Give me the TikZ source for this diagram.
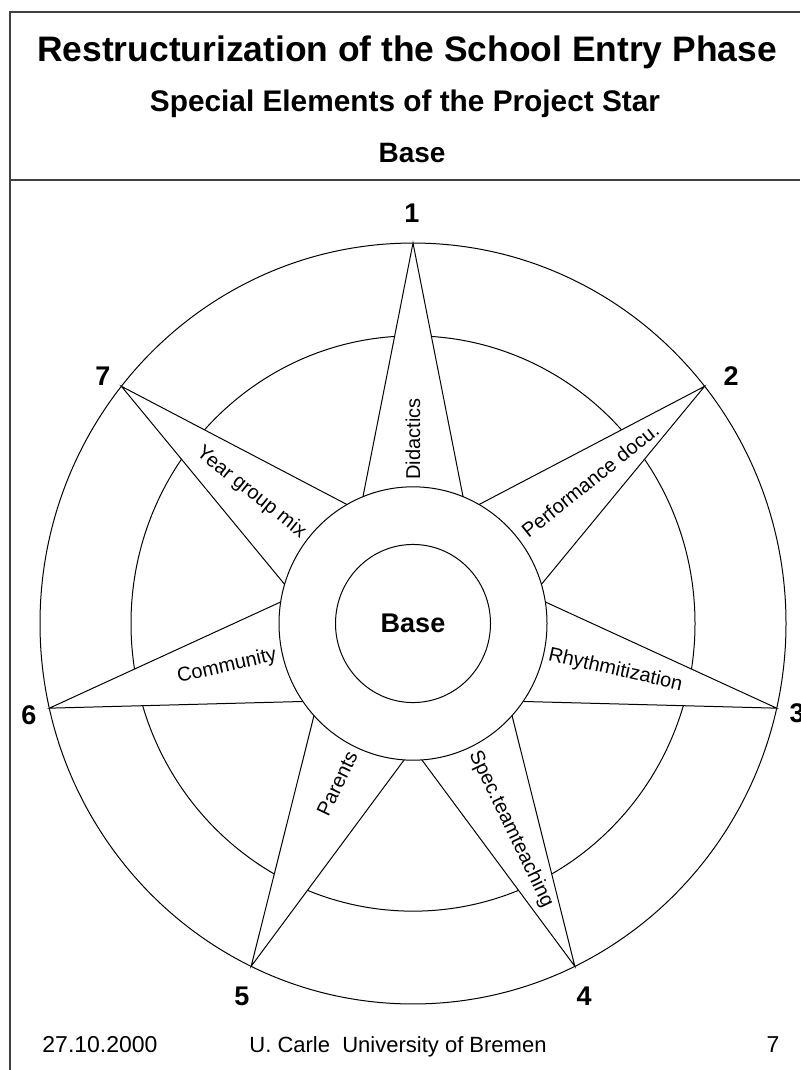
\documentclass[tikz,border=0pt]{standalone}
\usepackage{fontspec}
\setmainfont{Liberation Sans}
\begin{document}
\begin{tikzpicture}[x=1pt,y=-1pt,
  frameline/.style={draw=black!75, line width=1.2pt},
  ring/.style={draw=black, line width=1pt},
  lbl/.style={font=\fontsize{20}{24}\selectfont, inner sep=0pt},
  num/.style={font=\bfseries\fontsize{27}{30}\selectfont, inner sep=0pt, anchor=base},
  foot/.style={font=\fontsize{23}{28}\selectfont, inner sep=0pt, anchor=base}]
\useasboundingbox (0,0) rectangle (800,1070);
\fill[white] (0,0) rectangle (800,1070);
\draw[frameline] (800,12) -- (10,12) -- (10,1070);
\draw[frameline] (10,180) -- (800,180);
\node[anchor=base, inner sep=0pt, font=\bfseries\fontsize{35.4}{40}\selectfont] (title) at (407,62) {Restructurization of the School Entry Phase};
\node[anchor=base, inner sep=0pt, font=\bfseries\fontsize{29.8}{34}\selectfont] (sub) at (405,112) {Special Elements of the Project Star};
\node[anchor=base, inner sep=0pt, font=\bfseries\fontsize{28}{32}\selectfont] (hdr) at (412,162) {Base};
\begin{scope}[shift={(413,623.5)}, x=1pt, y=1.02pt]
  \draw[ring] (0,0) circle (373);
  \draw[ring] (0,0) circle (282);
  \draw[ring, fill=white] (90:373)
    \foreach \k in {1,...,7} { -- ({90-(2*\k-1)*180/7}:122) -- ({90-2*\k*180/7}:373) } -- cycle;
  \draw[ring, fill=white] (0,0) circle (134);
  \draw[ring] (0,0) circle (77.5);
  \node[inner sep=0pt, font=\bfseries\fontsize{27}{32}\selectfont] (base) at (0,0) {Base};
  \node[lbl, rotate=90, anchor=west] (l1) at (90:141) {Didactics};
  \node[lbl, rotate=38.57, anchor=west] (l2) at (38.57:142) {Performance docu.};
  \node[lbl, rotate=-12.86, anchor=west] (l3) at (-12.86:139) {Rhythmitization};
  \node[lbl, rotate=-64.29, anchor=west] (l4) at (-64.29:140) {Spec.teamteaching};
  \node[lbl, rotate=64.29, anchor=east] (l5) at (-115.71:140) {Parents};
  \node[lbl, rotate=12.86, anchor=east] (l6) at (-167.14:140) {Community};
  \node[lbl, rotate=-38.57, anchor=east] (l7) at (141.43:140) {Year group mix};
\end{scope}
\node[num] (n1) at (412,222) {1};
\node[num] (n2) at (731,385) {2};
\node[num] (n3) at (797,722) {3};
\node[num] (n4) at (584,1005) {4};
\node[num] (n5) at (242,1005) {5};
\node[num] (n6) at (29,724) {6};
\node[num] (n7) at (103,385) {7};
\node[foot] (date) at (100,1052) {27.10.2000};
\node[foot, font=\fontsize{22}{27}\selectfont] (auth) at (398,1052) {U. Carle\ \ University of Bremen};
\node[foot] (page) at (773,1052) {7};
\end{tikzpicture}
\end{document}
